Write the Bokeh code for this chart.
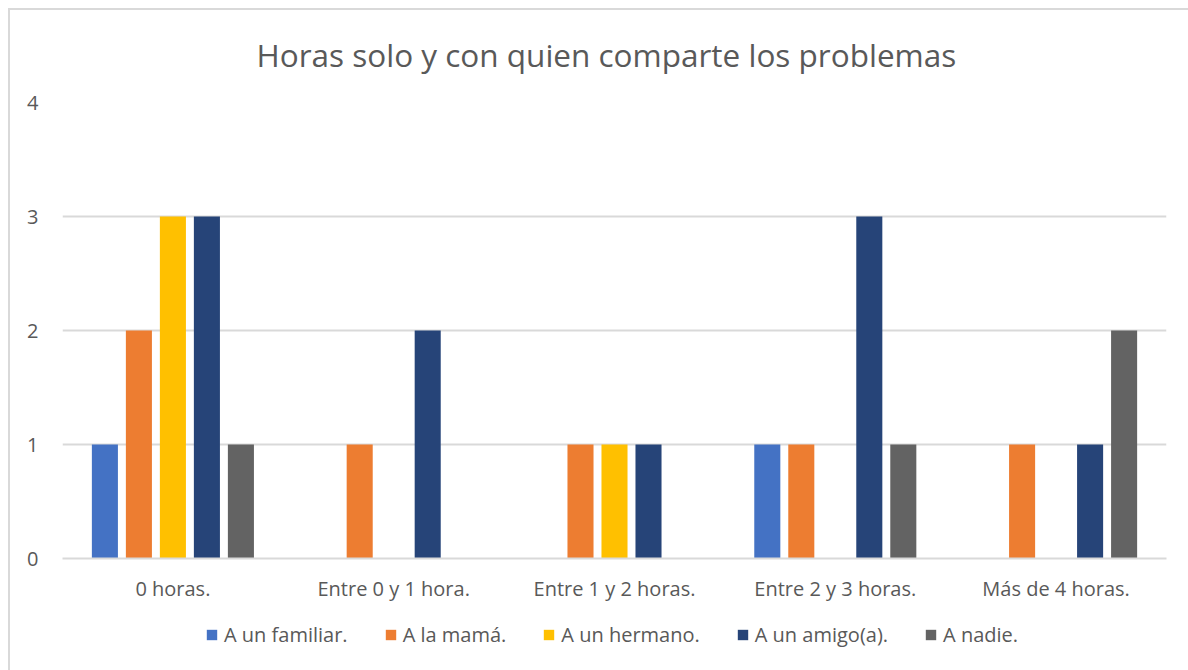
from bokeh.plotting import figure
from bokeh.layouts import column
from bokeh.models import ColumnDataSource, FactorRange, Range1d, Legend, LegendItem, Title
from bokeh.transform import dodge
from bokeh.embed import file_html
from bokeh.resources import INLINE

categories = ["0 horas.", "Entre 0 y 1 hora.", "Entre 1 y 2 horas.", "Entre 2 y 3 horas.", "Más de 4 horas."]
series_names = ["A un familiar.", "A la mamá.", "A un hermano.", "A un amigo(a).", "A nadie."]
familiar = [1, 0, 0, 1, 0]
mama = [2, 1, 1, 1, 1]
hermano = [3, 0, 1, 0, 0]
amigo = [3, 2, 1, 3, 1]
nadie = [1, 0, 0, 1, 2]
colors = ["#4472C4", "#ED7D31", "#FFC000", "#264478", "#636363"]
y_ticks = [0, 1, 2, 3, 4]

FONT = "Open Sans"
TEXT = "#595959"
offsets = [-0.308, -0.154, 0.0, 0.154, 0.308]

src = ColumnDataSource(dict(cat=categories, s0=familiar, s1=mama, s2=hermano, s3=amigo, s4=nadie))

p = figure(x_range=FactorRange(*categories), y_range=Range1d(0, 4),
           width=1178, height=601, output_backend="svg", toolbar_location=None,
           min_border_left=52, min_border_right=22, min_border_top=94, min_border_bottom=40)
p.margin = (-7, 0, 0, 0)
p.border_fill_alpha = 0

title = Title(text="Horas solo y con quien comparte los problemas", align="left", offset=194,
              text_font=FONT, text_font_size="31.5px", text_color=TEXT,
              text_font_style="normal", standoff=54)
p.add_layout(title, "above")

for i, col in enumerate(colors):
    p.vbar(x=dodge("cat", offsets[i], range=p.x_range), top="s%d" % i, width=0.118,
           source=src, fill_color=col, line_color=None)

p.outline_line_color = None
p.xgrid.grid_line_color = None
p.ygrid.grid_line_color = "#d9d9d9"
p.ygrid.grid_line_width = 2
p.yaxis.ticker = y_ticks
p.yaxis.axis_line_color = None
p.yaxis.major_tick_line_color = None
p.yaxis.minor_tick_line_color = None
p.yaxis.major_label_standoff = 18
p.xaxis.axis_line_color = "#d9d9d9"
p.xaxis.axis_line_width = 2
p.xaxis.major_tick_line_color = None
p.xaxis.minor_tick_line_color = None
p.xaxis.major_label_standoff = 10
for ax in (p.xaxis, p.yaxis):
    ax.major_label_text_font = FONT
    ax.major_label_text_font_size = "20px"
    ax.major_label_text_color = TEXT

# legend strip below the chart (its bars lie outside its view, only the legend shows)
lf = figure(x_range=FactorRange(*categories), y_range=Range1d(100, 101),
            width=1178, height=66, output_backend="svg", toolbar_location=None,
            x_axis_location=None, y_axis_location=None,
            min_border_left=0, min_border_right=0, min_border_top=0, min_border_bottom=0)
lf.outline_line_color = None
lf.grid.grid_line_color = None
items = []
for i, (name, col) in enumerate(zip(series_names, colors)):
    r = lf.vbar(x=dodge("cat", offsets[i], range=lf.x_range), top="s%d" % i, width=0.118,
                source=src, fill_color=col, line_color=None)
    items.append(LegendItem(label=name, renderers=[r]))
legend = Legend(items=items, orientation="horizontal", location=(143, 22),
                label_text_font=FONT, label_text_font_size="20px", label_text_color=TEXT,
                glyph_width=13, glyph_height=13, label_standoff=6, spacing=36,
                border_line_color=None, background_fill_alpha=0, padding=0, margin=0)
lf.add_layout(legend)

layout = column(p, lf, spacing=0)
layout.styles = {"margin-left": "8px", "margin-top": "8px",
                 "border-top": "2px solid #d9d9d9", "border-left": "2px solid #d9d9d9"}

open("out.html", "w").write(file_html(layout, INLINE))
